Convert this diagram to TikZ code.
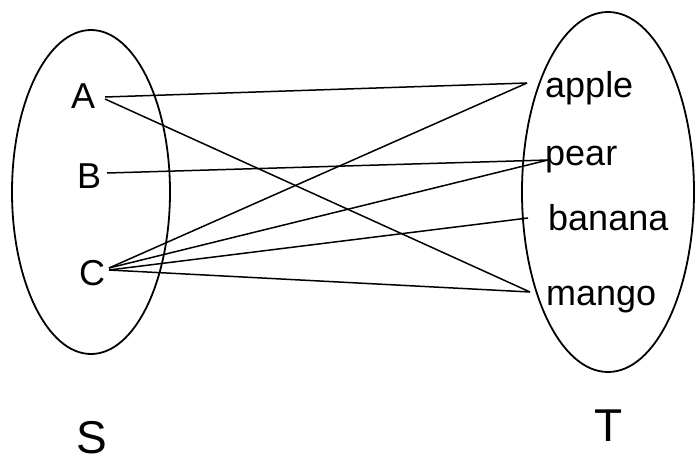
\documentclass[tikz,border=0pt]{standalone}
\usepackage{fontspec}
\setmainfont{Liberation Sans}
\begin{document}
\begin{tikzpicture}[x=1pt,y=-1pt,
  set/.style={draw, line width=1.8pt},
  lbl/.style={inner sep=0pt, anchor=base west, font=\fontsize{36}{40}\selectfont},
  big/.style={inner sep=0pt, anchor=base west, font=\fontsize{46}{50}\selectfont},
  link/.style={draw, line width=1.5pt}]
\useasboundingbox (0,0) rectangle (699,472);
% sets
\draw[set] (91,192) ellipse [x radius=79, y radius=162];
\draw[set] (608,192) ellipse [x radius=86, y radius=180];
% left elements
\node[lbl] (A) at (71,108) {A};
\node[lbl] (B) at (77,188) {B};
\node[lbl] (C) at (79,285) {C};
% right elements
\node[lbl] (apple) at (545,97) {apple};
\node[lbl] (pear) at (545,165) {pear};
\node[lbl] (banana) at (548,230) {banana};
\node[lbl] (mango) at (546,305) {mango};
% set names
\node[big] (S) at (76,453) {S};
\node[big] (T) at (594,441) {T};
% connector ends
\coordinate (a1) at (105,97);
\coordinate (a2) at (105,99);
\coordinate (b1) at (107,173);
\coordinate (c1) at (109,268);
\coordinate (c2) at (109,270);
\coordinate (appleIn) at (527,83);
\coordinate (pearIn) at (548,160);
\coordinate (bananaIn) at (528,218);
\coordinate (mangoIn) at (530,292);
% links
\draw[link] (a1) -- (appleIn);
\draw[link] (a2) -- (mangoIn);
\draw[link] (b1) -- (pearIn);
\draw[link] (c1) -- (appleIn);
\draw[link] (c1) -- (pearIn);
\draw[link] (c2) -- (bananaIn);
\draw[link] (c2) -- (mangoIn);
\end{tikzpicture}
\end{document}
